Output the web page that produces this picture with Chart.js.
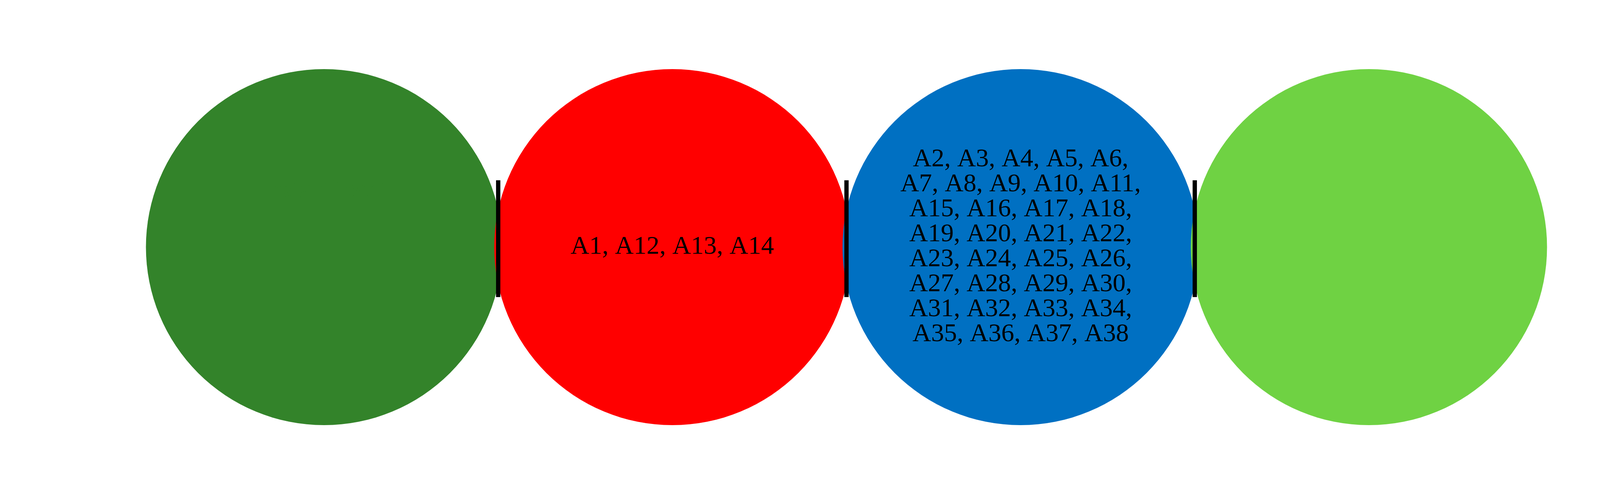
<!DOCTYPE html>
<html><head><meta charset="utf-8">
<script src="https://cdn.jsdelivr.net/npm/chart.js@4"></script>
<style>html,body{margin:0;padding:0;background:#fff;overflow:hidden}canvas{display:block}</style>
</head><body><canvas id="c" width="4334" height="1227" style="width:4334px;height:1227px"></canvas>
<script>
const categories = ["Insignificant", "Low", "Medium", "High"];
const colors = ["#33832a", "#ff0000", "#0070c2", "#6fd243"];
const memberLines = [
  [],
  ["A1, A12, A13, A14"],
  ["A2, A3, A4, A5, A6,", "A7, A8, A9, A10, A11,", "A15, A16, A17, A18,", "A19, A20, A21, A22,", "A23, A24, A25, A26,", "A27, A28, A29, A30,", "A31, A32, A33, A34,", "A35, A36, A37, A38"],
  []
];

const labelPlugin = {
  id: 'labels',
  afterDatasetsDraw(chart) {
    const ctx = chart.ctx;
    const xs = chart.scales.x, ys = chart.scales.y;
    const meta = chart.getDatasetMeta(0);
    ctx.save();
    ctx.strokeStyle = '#000'; ctx.lineWidth = 11;
    for (let i = 0; i < categories.length - 1; i++) {
      const px = xs.getPixelForValue(i + 0.5);
      ctx.beginPath(); ctx.moveTo(px, ys.getPixelForValue(0.018)); ctx.lineTo(px, ys.getPixelForValue(0.968)); ctx.stroke();
    }
    ctx.textAlign = 'center'; ctx.textBaseline = 'middle';
    const titleY = [0.1, 0.112, 0.1, 0.088];
    categories.forEach((c, i) => {
      const p = meta.data[i];
      ctx.fillStyle = colors[i];
      ctx.font = 'bold 60px "Liberation Serif", serif';
      ctx.fillText(c, p.x, ys.getPixelForValue(titleY[i]));
      ctx.fillStyle = '#000';
      ctx.font = '66px "Liberation Serif", serif';
      const lines = memberLines[i];
      const lh = 64;
      lines.forEach((l, k) => {
        ctx.fillText(l, p.x, p.y + (k - (lines.length - 1) / 2) * lh);
      });
    });
    ctx.restore();
  }
};

new Chart(document.getElementById('c'), {
  type: 'scatter',
  data: {
    datasets: [{
      data: categories.map((c, i) => ({x: i, y: 0.562})),
      backgroundColor: colors,
      borderWidth: 0,
      pointRadius: 456,
      pointHoverRadius: 456,
      clip: false
    }]
  },
  options: {
    responsive: false, animation: false, devicePixelRatio: 1,
    layout: {padding: 0},
    events: [],
    plugins: {legend: {display: false}, tooltip: {enabled: false}},
    scales: {
      x: {type: 'linear', min: -0.419, max: 3.419, display: false},
      y: {type: 'linear', min: 0, max: 1, reverse: true, display: false}
    }
  },
  plugins: [labelPlugin]
});
</script></body></html>
